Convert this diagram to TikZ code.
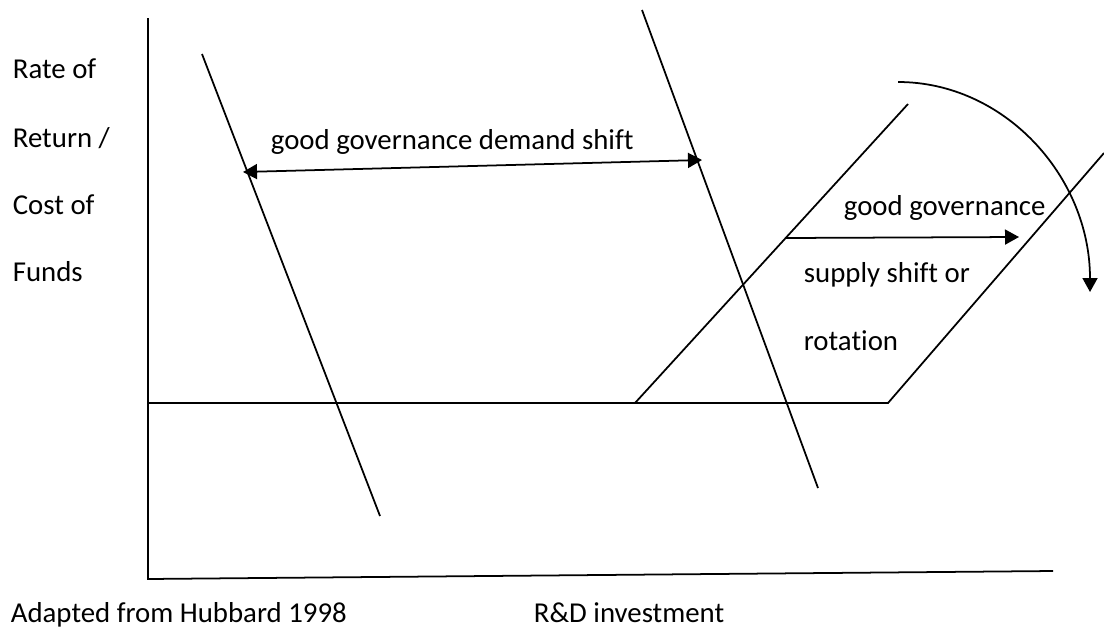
\documentclass[tikz,border=0pt]{standalone}
\usepackage{fontspec}
\setmainfont[Ligatures=NoCommon]{Carlito}
\usepackage{tikz}
\usetikzlibrary{arrows.meta, positioning}
\tikzstyle{curve}=[draw, line width=1pt]
\tikzstyle{lbl}=[inner sep=0pt, anchor=base west, font=\fontsize{16.4}{20}\selectfont]

\begin{document}
\begin{tikzpicture}[x=0.02cm, y=-0.02cm, >={Triangle[length=2.8mm,width=3mm]}, line width=1pt]
  \useasboundingbox (0,0) rectangle (1104,632);
  % axes
  \coordinate (origin) at (148,579);
  \coordinate (ytop) at (148,18);
  \coordinate (xend) at (1053,571);
  \draw (ytop) -- (origin) -- (xend);

  % demand curves
  \coordinate (d1top) at (202,54);
  \coordinate (d1bot) at (380,516);
  \coordinate (d2top) at (642,10);
  \coordinate (d2bot) at (818,488);
  \draw[curve] (d1top) -- (d1bot);
  \draw[curve] (d2top) -- (d2bot);

  % supply curves
  \coordinate (s1left) at (148,403);
  \coordinate (s1kink) at (635,403);
  \coordinate (s1top) at (908,104);
  \coordinate (s2kink) at (888,403);
  \coordinate (s2top) at (1104,153);
  \draw[curve] (s1left) -- (s1kink) -- (s1top);
  \draw[curve] (s1kink) -- (s2kink) -- (s2top);

  % shifts
  \coordinate (dshiftl) at (243,172);
  \coordinate (dshiftr) at (702,160);
  \draw[<->] (dshiftl) -- (dshiftr);
  \coordinate (sshiftl) at (785,238);
  \coordinate (sshiftr) at (1019,237);
  \draw[->] (sshiftl) -- (sshiftr);
  \coordinate (rotstart) at (898,82);
  \coordinate (rotend) at (1090,292);
  \draw[->] (rotstart) .. controls +(106,0) and +(0,-116) .. (rotend);

  % labels
  \node[lbl] (rate) at (12,78) {Rate of};
  \node[lbl] (return) at (12,147) {Return /};
  \node[lbl] (cost) at (12,214) {Cost of};
  \node[lbl] (funds) at (12,281) {Funds};
  \node[lbl] (dshift) at (270,149) {good governance demand shift};
  \node[lbl] (sgov) at (843,215) {good governance};
  \node[lbl] (sshift) at (803,282) {supply shift or};
  \node[lbl] (srot) at (803,350) {rotation};
  \node[lbl] (source) at (10,622) {Adapted from Hubbard 1998};
  \node[lbl] (xlabel) at (533,622) {R\&D investment};
\end{tikzpicture}
\end{document}
